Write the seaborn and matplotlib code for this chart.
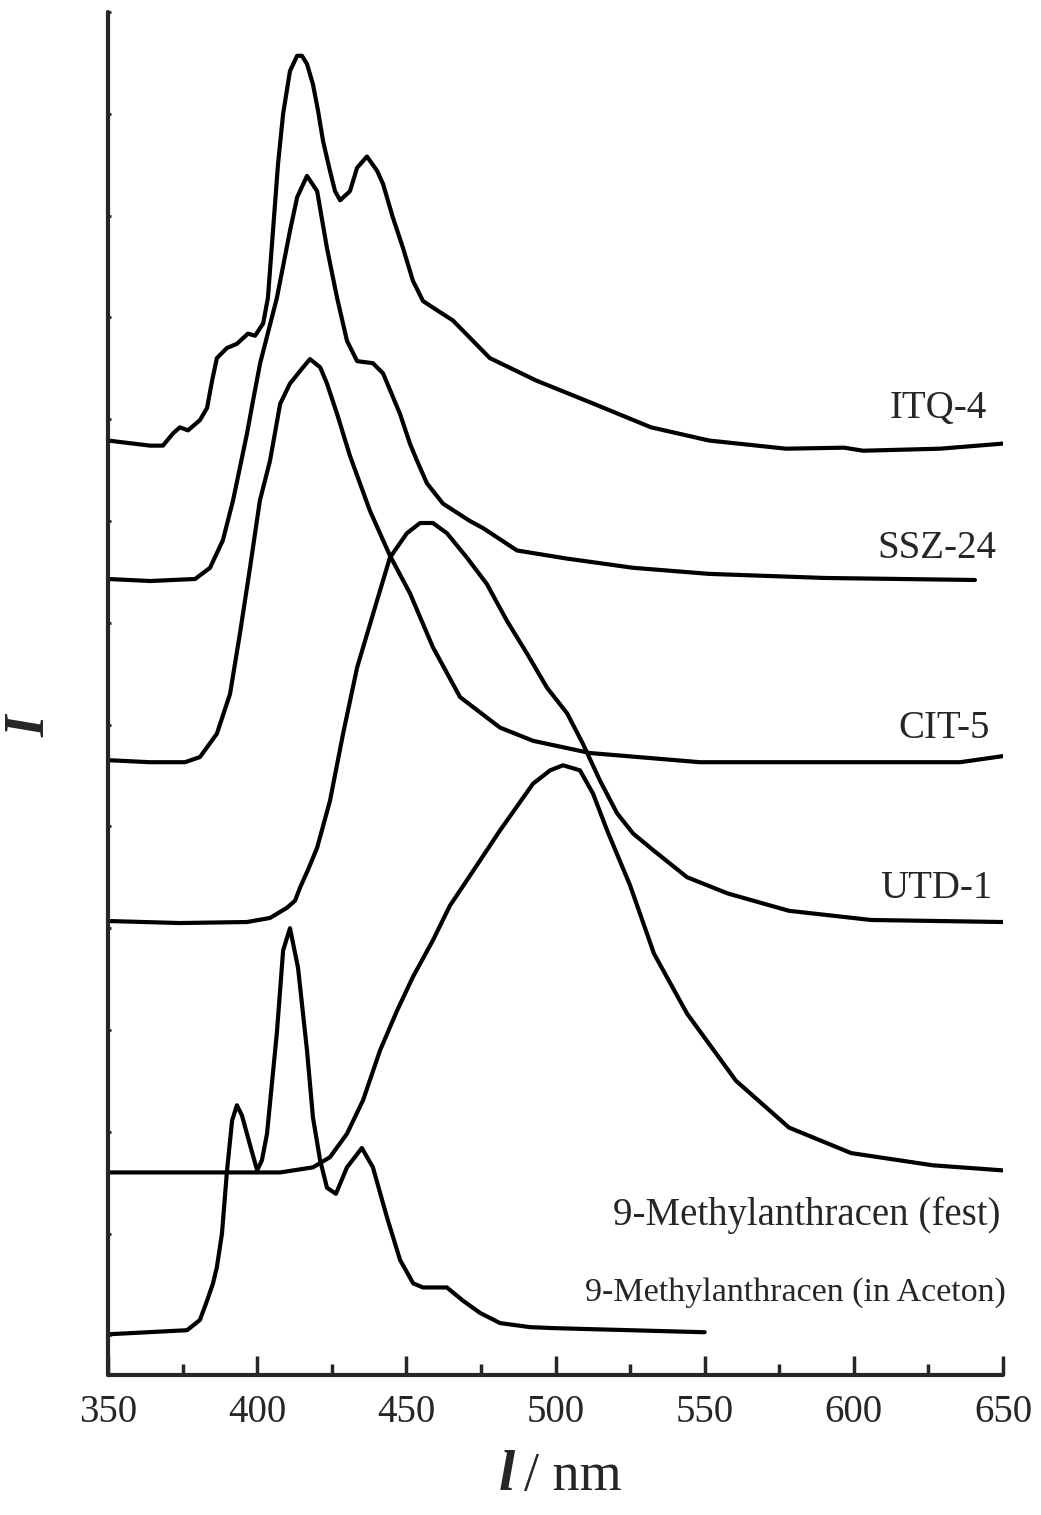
import numpy as np
import pandas as pd
import matplotlib
matplotlib.use("Agg")
import matplotlib.pyplot as plt
import seaborn as sns

# emission spectra (wavelength in nm, intensity in arb. units, offset stacked)
itq4_nm = [350, 364.1, 368.4, 371.8, 374.1, 376.8, 380.8, 383.2, 384.9, 386.5, 389.9, 393.2, 396.9,
           399.3, 402.0, 403.6, 405.3, 407.0, 408.7, 411.0, 413.4, 415.0, 416.7, 418.7, 420.4, 422.1,
           424.4, 426.1, 427.8, 431.1, 433.5, 436.8, 440.2, 442.2, 445.5, 448.9, 452.2, 455.6, 460.3,
           465.6, 471.3, 478.0, 493.5, 512.9, 532.0, 551.5, 577.3, 596.7, 603.1, 628.9, 650]
itq4_I = [879, 874, 874, 886, 892, 889, 899, 911, 938, 960, 970, 974, 984,
          982, 994, 1019, 1085, 1151, 1200, 1242, 1257, 1257, 1249, 1229, 1203, 1173,
          1144, 1124, 1115, 1124, 1147, 1158, 1144, 1131, 1098, 1068, 1036, 1016, 1007,
          997, 980, 960, 938, 915, 892, 879, 871, 872, 869, 871, 876]

ssz24_nm = [350, 364.1, 379.2, 384.2, 388.5, 391.9, 396.6, 398.6, 401.0, 406.6, 411.0, 413.4, 416.7,
            420.1, 423.4, 426.8, 430.1, 433.5, 438.8, 442.2, 447.9, 451.2, 453.6, 456.9, 462.3,
            471.3, 475.7, 487.1, 503.9, 526.0, 551.5, 590.3, 640.6]
ssz24_I = [743, 741, 743, 754, 781, 820, 886, 918, 955, 1019, 1085, 1118, 1139,
           1124, 1068, 1019, 977, 957, 955, 945, 905, 876, 859, 837, 817,
           800, 793, 771, 763, 754, 748, 744, 742]

cit5_nm = [350, 364.1, 375.8, 380.8, 386.5, 390.9, 394.2, 397.6, 400.9, 404.3, 407.7, 411.0, 415.4,
           417.7, 421.1, 423.4, 426.8, 431.1, 437.8, 444.5, 451.2, 458.9, 468.0, 481.4, 492.5,
           511.6, 548.4, 598.7, 635.6, 650]
cit5_I = [565, 563, 563, 568, 591, 630, 689, 754, 820, 859, 915, 935, 951,
          959, 951, 935, 905, 864, 810, 766, 729, 676, 627, 597, 584,
          572, 563, 563, 563, 569]

utd1_nm = [350, 374.1, 396.6, 404.3, 410.0, 412.7, 414.4, 417.0, 420.1, 424.4, 428.8, 433.5, 440.2,
           444.5, 450.2, 454.6, 458.9, 463.6, 470.3, 477.0, 483.7, 490.4, 497.2, 503.9, 509.2,
           514.9, 520.6, 526.0, 533.0, 544.1, 557.8, 578.3, 605.8, 650]
utd1_I = [407, 405, 406, 410, 420, 427, 440, 457, 479, 525, 591, 656, 722,
          764, 788, 798, 798, 788, 764, 738, 702, 670, 636, 611, 581,
          545, 513, 493, 476, 450, 434, 417, 408, 406]

fest_nm = [350, 407.7, 418.7, 424.4, 430.1, 435.5, 441.2, 446.9, 452.2, 458.9, 464.6, 470.3, 481.4,
           492.5, 498.2, 502.5, 508.2, 512.6, 517.3, 525.0, 533.0, 544.1, 560.5, 578.3, 599.1,
           626.5, 650]
fest_I = [160, 160, 165, 175, 198, 231, 280, 319, 352, 388, 422, 447, 496,
          542, 555, 560, 555, 532, 496, 442, 375, 316, 250, 204, 179,
          167, 162]

aceton_nm = [350, 376.5, 380.8, 383.2, 385.2, 386.5, 388.2, 389.9, 391.6, 393.2, 394.9, 397.6, 400.0,
             401.6, 403.3, 406.6, 408.7, 411.0, 413.7, 416.7, 418.7, 421.1, 423.4, 426.4, 430.1,
             435.1, 438.8, 443.5, 447.9, 452.3, 455.6, 463.6, 469.0, 474.7, 481.4, 491.5, 500,
             525, 550]
aceton_I = [1, 5, 15, 34, 51, 67, 100, 162, 211, 226, 216, 187, 162,
            172, 198, 297, 378, 400, 361, 280, 214, 172, 145, 139, 165,
            184, 165, 116, 74, 51, 47, 47, 34, 22, 12, 8, 7,
            5, 3]

samples = ["ITQ-4", "SSZ-24", "CIT-5", "UTD-1",
           "9-Methylanthracen (fest)", "9-Methylanthracen (in Aceton)"]
series = [(itq4_nm, itq4_I), (ssz24_nm, ssz24_I), (cit5_nm, cit5_I), (utd1_nm, utd1_I),
          (fest_nm, fest_I), (aceton_nm, aceton_I)]

# label anchor (right end, vertical centre) for each sample name
label_x = [644.6, 647.7, 645.6, 646.6, 649.0, 651.0]
label_y = [910, 773, 596, 439, 118, 42]
label_size = [28, 28, 28, 28, 28, 24.5]

df = pd.concat([pd.DataFrame({"nm": x, "I": y, "sample": s})
                for s, (x, y) in zip(samples, series)], ignore_index=True)

sns.set_style("ticks")
plt.rcParams["font.family"] = ["Liberation Serif", "DejaVu Serif"]

fig = plt.figure(figsize=(10.41, 15.15), dpi=100)
ax = fig.add_axes([108 / 1041, 140 / 1515, 895 / 1041, 1363 / 1515])

sns.lineplot(data=df, x="nm", y="I", units="sample", estimator=None, sort=False,
             color="black", lw=3.0, ax=ax, solid_capstyle="round", solid_joinstyle="round")

ax.set_xlim(350, 650)
ax.set_ylim(-39, 1300)
ax.set_xticks(np.arange(350, 651, 50))
ax.set_xticks(np.arange(375, 650, 50), minor=True)
ax.set_yticks(np.arange(0, 1301, 100))
ax.set_yticklabels([])

for side in ["top", "right"]:
    ax.spines[side].set_visible(False)
for side in ["left", "bottom"]:
    ax.spines[side].set_linewidth(3.0)
    ax.spines[side].set_capstyle("round")

ax.tick_params(axis="x", which="major", direction="in", length=14, width=2.5,
               labelsize=28, pad=14)
ax.tick_params(axis="x", which="minor", direction="in", length=8, width=2.5)
ax.tick_params(axis="y", which="major", direction="in", length=2.5, width=2)

ax.set_xlabel("")
ax.set_ylabel("")

for s, lx, ly, fs in zip(samples, label_x, label_y, label_size):
    ax.text(lx, ly, s, ha="right", va="center", fontsize=fs)

# axis titles: bold italic symbol + units
fig.text(515 / 1041, 1 - 1490 / 1515, "l", fontsize=42, fontweight="bold",
         fontstyle="italic", ha="right", va="baseline")
fig.text(524 / 1041, 1 - 1490 / 1515, "/ nm", fontsize=39, ha="left", va="baseline")
fig.text(31 / 1041, 1 - 726 / 1515, "I", fontsize=40, fontweight="bold",
         fontstyle="italic", rotation=90, ha="center", va="center")

fig.savefig("out.png", dpi=100, facecolor="white")
